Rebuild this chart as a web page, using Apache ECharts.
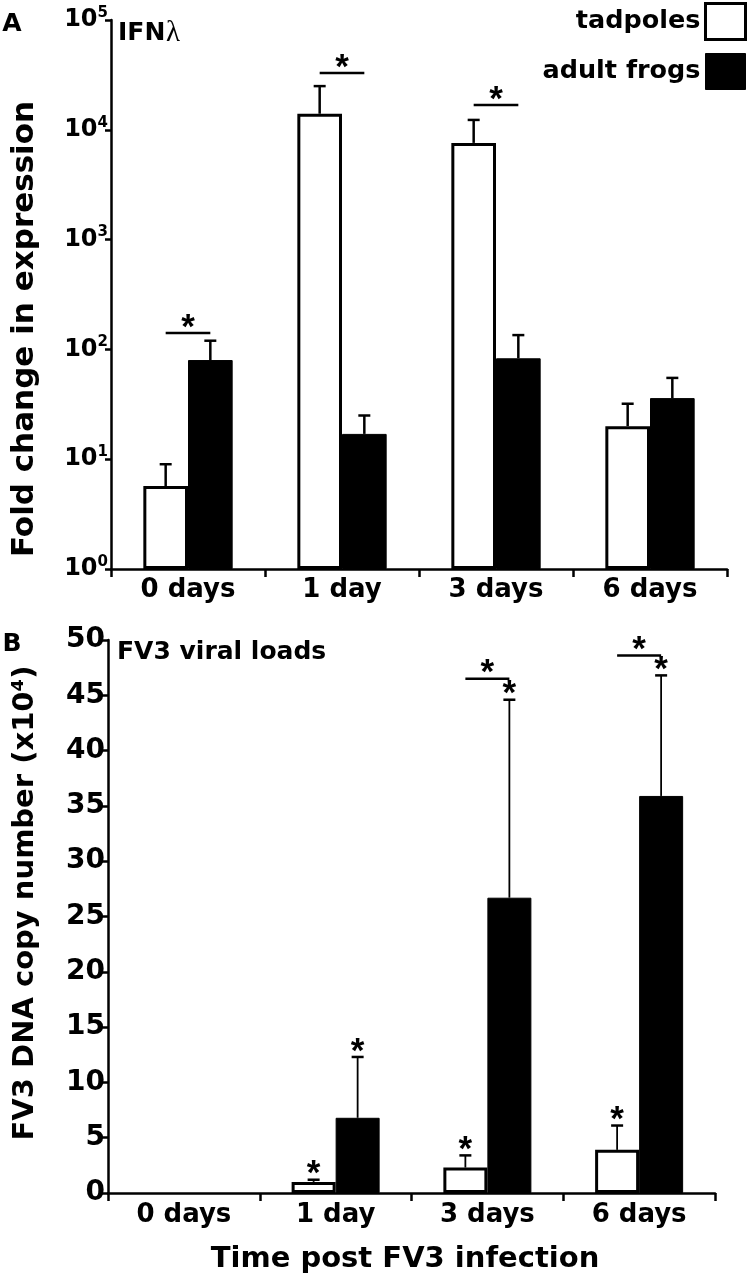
<!DOCTYPE html>
<html><head><meta charset="utf-8">
<script src="https://cdn.jsdelivr.net/npm/echarts@6/dist/echarts.min.js"></script>
<style>html,body{margin:0;padding:0;background:#fff}#c{width:750px;height:1281px}</style>
</head><body><div id="c"></div>
<script>
// ---- Data ----
const categories = ['0 days', '1 day', '3 days', '6 days'];

// Panel A: IFN lambda fold change (log scale)
const ifnTadpoles = [5.7, 14000, 7600, 20];
const ifnTadpolesUpper = [9.0, 25000, 12300, 32];
const ifnAdults = [80, 17, 83, 36];
const ifnAdultsUpper = [120, 25, 135, 55];
const ifnSigLevels = [141, 32900, 16800, null];

// Panel B: FV3 DNA copy number (x10^4)
const fv3Tadpoles = [0, 1.0, 2.3, 3.9];
const fv3TadpolesUpper = [null, 1.2, 3.4, 6.1];
const fv3Adults = [0, 6.8, 26.7, 35.9];
const fv3AdultsUpper = [null, 12.3, 44.6, 46.8];
const fv3TadpolesStar = [0, 1, 1, 1];
const fv3AdultsStar = [0, 1, 1, 1];
const fv3SigLevels = [null, null, 46.5, 48.6];

// ---- Style constants ----
const FONT = '"DejaVu Sans", sans-serif';
const STAR_FONT = 'bold 35px "Liberation Sans", Arial, sans-serif';
const BW = 0.29; // bar width fraction of category band
const GAP = '42%';

function errData(vals, upper, stars) {
  const out = [];
  vals.forEach((v, i) => {
    if (upper[i] != null) out.push([i, v, upper[i], stars ? stars[i] : 0]);
  });
  return out;
}
function sigData(levels) {
  const out = [];
  levels.forEach((v, i) => { if (v != null) out.push([i, v]); });
  return out;
}
function barData(vals) {
  return vals.map(v => v === 0 ? {value: 0, itemStyle: {borderWidth: 0}} : v);
}
function starEl(x, y) {
  return {type: 'text', style: {text: '*', x: x, y: y - 5, fill: '#000', font: STAR_FONT,
    align: 'center', verticalAlign: 'middle', textAlign: 'center', textVerticalAlign: 'middle'}};
}
function errRender(side, lw) {
  return function (params, api) {
    const i = api.value(0), v = api.value(1), up = api.value(2), star = api.value(3);
    const catW = params.coordSys.width / categories.length;
    const p0 = api.coord([i, v]);
    const p1 = api.coord([i, up]);
    const x = p0[0] + side * catW * BW / 2;
    const children = [
      {type: 'line', shape: {x1: x, y1: p0[1], x2: x, y2: p1[1]}, style: {stroke: '#000', lineWidth: lw}},
      {type: 'line', shape: {x1: x - 6, y1: p1[1], x2: x + 6, y2: p1[1]}, style: {stroke: '#000', lineWidth: 2.5}}
    ];
    if (star) children.push(starEl(x, p1[1]));
    return {type: 'group', children: children};
  };
}
function sigRender(params, api) {
  const i = api.value(0), v = api.value(1);
  const catW = params.coordSys.width / categories.length;
  const p = api.coord([i, v]);
  const half = catW * BW / 2;
  return {type: 'group', children: [
    {type: 'line', shape: {x1: p[0] - half, y1: p[1], x2: p[0] + half, y2: p[1]}, style: {stroke: '#000', lineWidth: 2.5}},
    starEl(p[0], p[1])
  ]};
}

const axisLine = {show: true, lineStyle: {color: '#000', width: 2.5}};
const chart = echarts.init(document.getElementById('c'), null, {renderer: 'canvas'});

const option = {
  animation: false,
  backgroundColor: '#fff',
  legend: {
    right: 3, top: 2, orient: 'vertical', align: 'right', padding: 0,
    itemWidth: 40, itemHeight: 36, itemGap: 12, selectedMode: false,
    textStyle: {fontSize: 25.5, fontWeight: 'bold', fontFamily: FONT, color: '#000'},
    data: [
      {name: 'tadpoles', icon: 'rect', itemStyle: {color: '#fff', borderColor: '#000', borderWidth: 3}},
      {name: 'adult frogs', icon: 'rect', itemStyle: {color: '#000', borderColor: '#000', borderWidth: 1}}
    ]
  },
  grid: [
    {left: 111, top: 20, width: 616, height: 549},
    {left: 108, top: 640, width: 607, height: 553}
  ],
  xAxis: [
    {type: 'category', gridIndex: 0, data: categories, axisLine: axisLine,
     axisTick: {show: true, length: 8, lineStyle: {color: '#000', width: 2.5}},
     axisLabel: {fontSize: 26, fontWeight: 'bold', fontFamily: FONT, color: '#000', margin: 8},
     splitLine: {show: false}},
    {type: 'category', gridIndex: 1, data: categories, axisLine: axisLine,
     axisTick: {show: true, length: 8, lineStyle: {color: '#000', width: 2.5}},
     axisLabel: {fontSize: 26, fontWeight: 'bold', fontFamily: FONT, color: '#000', margin: 9},
     splitLine: {show: false}}
  ],
  yAxis: [
    {type: 'log', logBase: 10, gridIndex: 0, min: 1, max: 100000, axisLine: axisLine,
     axisTick: {show: true, length: 6, lineStyle: {color: '#000', width: 2.5}},
     splitLine: {show: false},
     axisLabel: {margin: 3, color: '#000',
       formatter: function (v) { return '{b|10}{s|' + Math.round(Math.log10(v)) + '}'; },
       rich: {
         b: {fontSize: 24, fontWeight: 'bold', fontFamily: FONT, color: '#000'},
         s: {fontSize: 15, fontWeight: 'bold', fontFamily: FONT, color: '#000', padding: [0, 0, 14, 0]}
       }}},
    {type: 'value', gridIndex: 1, min: 0, max: 50, interval: 5, axisLine: axisLine,
     axisTick: {show: true, length: 6, lineStyle: {color: '#000', width: 2.5}},
     splitLine: {show: false},
     axisLabel: {margin: 3, fontSize: 28, fontWeight: 'bold', fontFamily: FONT, color: '#000'}}
  ],
  series: [
    {name: 'tadpoles', type: 'bar', xAxisIndex: 0, yAxisIndex: 0, data: barData(ifnTadpoles), barGap: '0%', barCategoryGap: GAP,
     itemStyle: {color: '#fff', borderColor: '#000', borderWidth: 3}},
    {name: 'adult frogs', type: 'bar', xAxisIndex: 0, yAxisIndex: 0, data: barData(ifnAdults), barGap: '0%', barCategoryGap: GAP,
     itemStyle: {color: '#000', borderColor: '#000', borderWidth: 1}},
    {name: 'tadpoles', type: 'bar', xAxisIndex: 1, yAxisIndex: 1, data: barData(fv3Tadpoles), barGap: '0%', barCategoryGap: GAP,
     itemStyle: {color: '#fff', borderColor: '#000', borderWidth: 3}},
    {name: 'adult frogs', type: 'bar', xAxisIndex: 1, yAxisIndex: 1, data: barData(fv3Adults), barGap: '0%', barCategoryGap: GAP,
     itemStyle: {color: '#000', borderColor: '#000', borderWidth: 1}},
    {type: 'custom', xAxisIndex: 0, yAxisIndex: 0, renderItem: errRender(-1, 2.5), data: errData(ifnTadpoles, ifnTadpolesUpper), z: 5},
    {type: 'custom', xAxisIndex: 0, yAxisIndex: 0, renderItem: errRender(1, 2.5), data: errData(ifnAdults, ifnAdultsUpper), z: 5},
    {type: 'custom', xAxisIndex: 0, yAxisIndex: 0, renderItem: sigRender, data: sigData(ifnSigLevels), z: 5},
    {type: 'custom', xAxisIndex: 1, yAxisIndex: 1, renderItem: errRender(-1, 1.8), data: errData(fv3Tadpoles, fv3TadpolesUpper, fv3TadpolesStar), z: 5},
    {type: 'custom', xAxisIndex: 1, yAxisIndex: 1, renderItem: errRender(1, 1.8), data: errData(fv3Adults, fv3AdultsUpper, fv3AdultsStar), z: 5},
    {type: 'custom', xAxisIndex: 1, yAxisIndex: 1, renderItem: sigRender, data: sigData(fv3SigLevels), z: 5}
  ],
  graphic: [
    {type: 'text', x: 12, y: 24, style: {text: 'A', font: 'bold 25px ' + FONT, fill: '#000', align: 'center', verticalAlign: 'middle', textAlign: 'center', textVerticalAlign: 'middle'}},
    {type: 'text', x: 12, y: 644, style: {text: 'B', font: 'bold 25px ' + FONT, fill: '#000', align: 'center', verticalAlign: 'middle', textAlign: 'center', textVerticalAlign: 'middle'}},
    {type: 'text', x: 118, y: 33, style: {text: 'IFN', font: 'bold 25px ' + FONT, fill: '#000', align: 'left', verticalAlign: 'middle', textAlign: 'left', textVerticalAlign: 'middle'}},
    {type: 'text', x: 166, y: 33, style: {text: 'λ', font: '29px "Liberation Serif", serif', fill: '#000', align: 'left', verticalAlign: 'middle', textAlign: 'left', textVerticalAlign: 'middle'}},
    {type: 'text', x: 117, y: 652, style: {text: 'FV3 viral loads', font: 'bold 25px ' + FONT, fill: '#000', align: 'left', verticalAlign: 'middle', textAlign: 'left', textVerticalAlign: 'middle'}},
    {type: 'text', x: 405, y: 1259, style: {text: 'Time post FV3 infection', font: 'bold 29px ' + FONT, fill: '#000', align: 'center', verticalAlign: 'middle', textAlign: 'center', textVerticalAlign: 'middle'}},
    {type: 'text', x: 25, y: 329, rotation: Math.PI / 2, style: {text: 'Fold change in expression', font: 'bold 31px ' + FONT, fill: '#000', align: 'center', verticalAlign: 'middle', textAlign: 'center', textVerticalAlign: 'middle'}},
    {type: 'text', x: 25, y: 903, rotation: Math.PI / 2, style: {text: 'FV3 DNA copy number (x10⁴)', font: 'bold 29px ' + FONT, fill: '#000', align: 'center', verticalAlign: 'middle', textAlign: 'center', textVerticalAlign: 'middle'}}
  ]
};
chart.setOption(option);
</script>
</body></html>
